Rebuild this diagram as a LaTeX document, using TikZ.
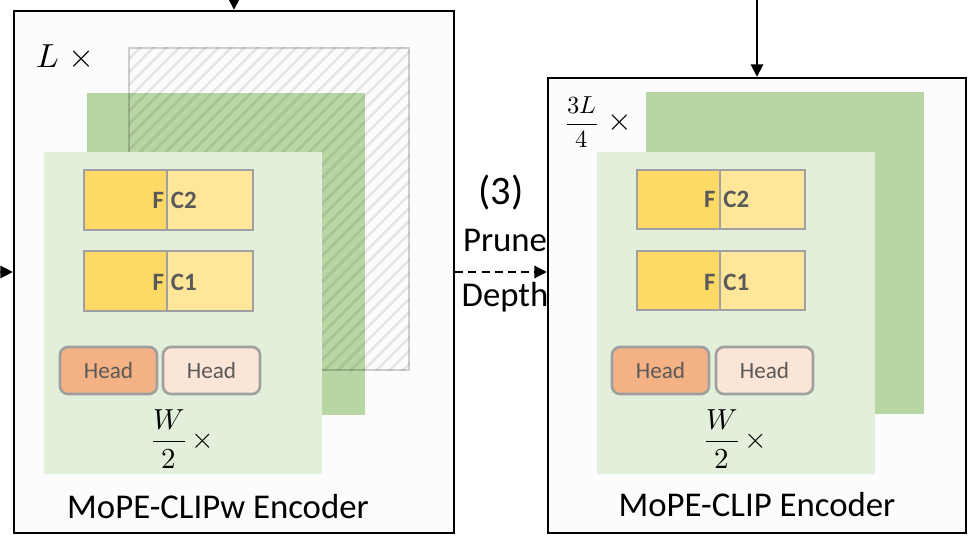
\documentclass[tikz,border=0pt]{standalone}
\usepackage{fontspec}
\usepackage{unicode-math}
\setmainfont{Carlito}
\setmathfont{Latin Modern Math}
\usetikzlibrary{arrows.meta,fit}
\definecolor{boxbg}{RGB}{252,252,252}
\definecolor{dkgreen}{RGB}{184,214,163}
\definecolor{ltgreen}{RGB}{226,239,218}
\definecolor{fcL}{RGB}{255,217,102}
\definecolor{fcR}{RGB}{255,230,153}
\definecolor{headA}{RGB}{244,177,131}
\definecolor{headB}{RGB}{251,229,214}
\definecolor{bordergray}{RGB}{160,160,160}
\definecolor{txtgray}{RGB}{89,89,89}
\begin{document}
\begin{tikzpicture}[x=0.02cm,y=-0.02cm,
  outerbox/.style={draw=black, line width=1.4pt, fill=boxbg, inner sep=0pt},
  panel/.style={draw=none, inner sep=0pt},
  fcpart/.style={draw=bordergray, line width=1.5pt, inner sep=0pt},
  headbox/.style={draw=bordergray, line width=1.5pt, rounded corners=4.5pt, inner sep=0pt},
  headtext/.style={inner sep=0pt, text=txtgray, font=\fontsize{13.2}{15}\selectfont},
  fctext/.style={inner sep=0pt, text=txtgray, font=\fontsize{14.2}{16}\selectfont\bfseries},
  lbl/.style={inner sep=0pt, font=\fontsize{19.8}{24}\selectfont},
  arr/.style={line width=1.1pt, -{Triangle[length=7pt,width=7pt]}},
  hatchln/.style={line width=1.6pt, draw=black, draw opacity=0.09}
]
\useasboundingbox (0,0) rectangle (972,543);

% ---------------- left encoder ----------------
\node[outerbox, fit={(14,11) (454,533)}] (encL) {};
\node[panel, fill=dkgreen, fit={(87,93) (365,415)}] (gL) {};
\begin{scope}
  \clip (129,48) rectangle (409,370);
  \foreach \a in {-200,-187,...,420} {
    \draw[hatchln] (\a,375) -- ++(330,-330);
  }
\end{scope}
\node[draw=black, draw opacity=0.18, line width=1.6pt, inner sep=0pt, fit={(129,48) (409,370)}] (hL) {};
\node[panel, fill=ltgreen, fit={(44,152) (322,474)}] (lgL) {};

\node[fcpart, fill=fcL, fit={(84,170) (167,230)}] (fc2La) {};
\node[fcpart, fill=fcR, fit={(167,170) (253,230)}] (fc2Lb) {};
\node[fctext, anchor=east] at (164.5,200) {F};
\node[fctext, anchor=west] at (170.5,200) {C2};
\node[fcpart, fill=fcL, fit={(84,251) (167,311)}] (fc1La) {};
\node[fcpart, fill=fcR, fit={(167,251) (253,311)}] (fc1Lb) {};
\node[fctext, anchor=east] at (164.5,282) {F};
\node[fctext, anchor=west] at (170.5,282) {C1};

\node[headbox, fill=headA, fit={(60,347) (157,394)}] (h1L) {};
\node[headbox, fill=headB, fit={(163,347) (260,394)}] (h2L) {};
\node[headtext] at (h1L.center) {Head};
\node[headtext] at (h2L.center) {Head};

\node[inner sep=0pt, anchor=west, font=\fontsize{16.5}{20}\selectfont] (wL) at (151,439) {$\displaystyle\frac{W}{2}\,\times$};
\node[inner sep=0pt, anchor=west, font=\fontsize{19}{23}\selectfont] (lL) at (36,56) {$L\;\times$};
\node[lbl, anchor=base] (tL) at (218,518) {MoPE-CLIPw Encoder};

% ---------------- right encoder ----------------
\node[outerbox, fit={(548,78) (966,533)}] (encR) {};
\node[panel, fill=dkgreen, fit={(646,92) (924,414)}] (gR) {};
\node[panel, fill=ltgreen, fit={(597,152) (875,474)}] (lgR) {};

\node[fcpart, fill=fcL, fit={(637,170) (720,229)}] (fc2Ra) {};
\node[fcpart, fill=fcR, fit={(720,170) (805,229)}] (fc2Rb) {};
\node[fctext, anchor=east] at (716,199.5) {F};
\node[fctext, anchor=west] at (723,199.5) {C2};
\node[fcpart, fill=fcL, fit={(637,251) (720,310)}] (fc1Ra) {};
\node[fcpart, fill=fcR, fit={(720,251) (805,310)}] (fc1Rb) {};
\node[fctext, anchor=east] at (716,282) {F};
\node[fctext, anchor=west] at (723,282) {C1};

\node[headbox, fill=headA, fit={(612,347) (709,394)}] (h1R) {};
\node[headbox, fill=headB, fit={(716,347) (813,394)}] (h2R) {};
\node[headtext] at (h1R.center) {Head};
\node[headtext] at (h2R.center) {Head};

\node[inner sep=0pt, anchor=west, font=\fontsize{16.5}{20}\selectfont] (wR) at (704,439) {$\displaystyle\frac{W}{2}\,\times$};
\node[inner sep=0pt, anchor=west] (lR) at (565,122)
  {{\fontsize{14}{17}\selectfont$\displaystyle\frac{3L}{4}$}{\fontsize{18}{22}\selectfont$\;\times$}};
\node[lbl, anchor=base] (tR) at (757,516) {MoPE-CLIP Encoder};

% ---------------- middle ----------------
\node[lbl, font=\fontsize{23}{27}\selectfont] (step3) at (501,193) {(3)};
\node[lbl, anchor=base] (prune) at (505,252) {Prune};
\node[lbl, anchor=base] (depth) at (505,307) {Depth};

% ---------------- connectors ----------------
\coordinate (topL) at (234,-5);
\coordinate (topR) at (757,-5);
\coordinate (inL) at (-10,272);
\draw[arr] (topL) -- (encL.north);
\draw[arr] (topR) -- (encR.north);
\draw[arr] (inL) -- (encL.west);
\draw[arr, dash pattern=on 4.5pt off 3pt] (encL.east) -- (encL.east -| encR.west);
\end{tikzpicture}
\end{document}
